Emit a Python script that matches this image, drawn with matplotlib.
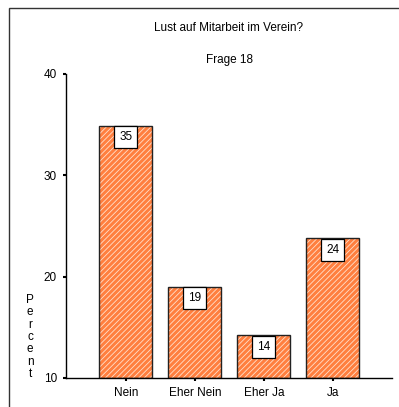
import matplotlib
matplotlib.use("Agg")
import matplotlib.pyplot as plt
from matplotlib.patches import Rectangle

categories = ["Nein", "Eher Nein", "Eher Ja", "Ja"]
percent = [34.9, 19.0, 14.2, 23.8]
bar_labels = ["35", "19", "14", "24"]
y_ticks = [10, 20, 30, 40]

plt.rcParams['font.family'] = ['Liberation Sans', 'DejaVu Sans']
plt.rcParams['hatch.linewidth'] = 0.6

fig = plt.figure(figsize=(3.99, 4.07), dpi=100)
ax = fig.add_axes([66 / 399, 1 - 378 / 407, (392 - 66) / 399, (378 - 74) / 407])

# outer frame
fig.patches.append(Rectangle((9 / 399, -0.01), 1.0, 1 - 8 / 407 + 0.01, transform=fig.transFigure,
                             fill=False, edgecolor='#333333', linewidth=1.0))

x = list(range(len(categories)))
heights = [p - 10 for p in percent]
# fill with white hatch lines, then dark outline on top
ax.bar(x, heights, bottom=10, width=0.77, color='#FF7F3F',
       edgecolor='#FFE0CC', linewidth=0, hatch='//////')
ax.bar(x, heights, bottom=10, width=0.77, fill=False,
       edgecolor='#222222', linewidth=1.0)

for xi, p, lab in zip(x, percent, bar_labels):
    ax.text(xi, p - 1.15, lab, ha='center', va='center', fontsize=8.5,
            bbox=dict(boxstyle='square,pad=0.42', facecolor='white', edgecolor='black', linewidth=0.9))

ax.set_xlim(-0.87, 3.86)
ax.set_ylim(10, 40)
ax.set_yticks(y_ticks)
ax.set_xticks(x)
ax.set_xticklabels(categories)
ax.tick_params(axis='both', length=2.5, width=1.5, labelsize=8.5, pad=4)
ax.spines['top'].set_visible(False)
ax.spines['right'].set_visible(False)
ax.spines['left'].set_linewidth(1.0)
ax.spines['bottom'].set_linewidth(1.0)

fig.text(30 / 399, 1 - 337 / 407, "\n".join("Percent"), ha='center', va='center',
         fontsize=8.5, linespacing=1.05)

fig.text(229 / 399, 1 - 28 / 407, "Lust auf Mitarbeit im Verein?", ha='center', va='center', fontsize=8.5)
fig.text(229 / 399, 1 - 60 / 407, "Frage 18", ha='center', va='center', fontsize=8.5)

fig.savefig("out.png", dpi=100)
